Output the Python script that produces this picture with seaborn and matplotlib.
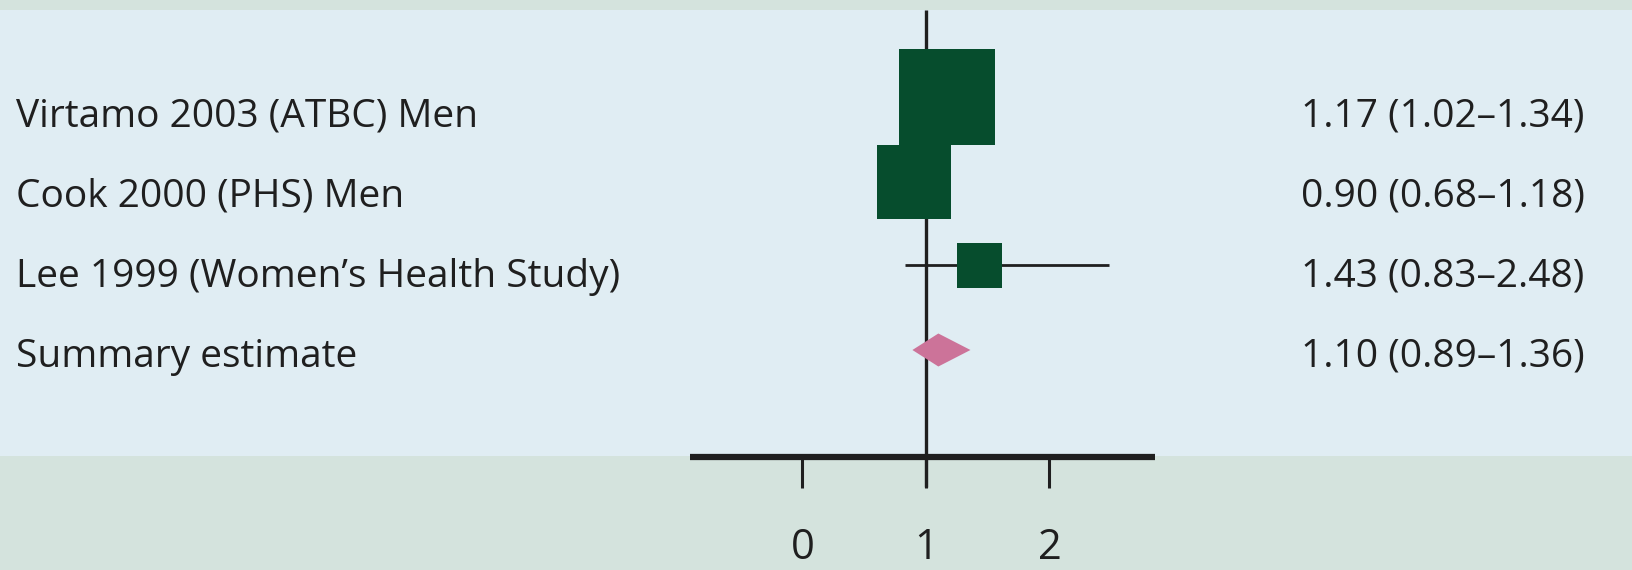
import matplotlib
matplotlib.use("Agg")
import matplotlib.pyplot as plt
import matplotlib.transforms as mtransforms
from matplotlib.patches import Polygon
import seaborn as sns
import pandas as pd

# ---- data -------------------------------------------------------------
studies = [
    "Virtamo 2003 (ATBC) Men",
    "Cook 2000 (PHS) Men",
    "Lee 1999 (Women\u2019s Health Study)",
]
estimates = [1.17, 0.90, 1.43]
ci_low = [1.02, 0.68, 0.83]
ci_high = [1.34, 1.18, 2.48]

summary_label = "Summary estimate"
summary_est = 1.10
summary_low = 0.89
summary_high = 1.36

tick_values = [0, 1, 2]
tick_labels = ["0", "1", "2"]

# ---- style / layout ---------------------------------------------------
W, H = 1633, 570
PX_PER_UNIT = 123.5
X_ONE_PX = 926
BG_OUTER = "#d4e3dd"
BG_PANEL = "#e0edf3"
BOX_GREEN = "#064d2d"
DIAMOND_PINK = "#cc7399"
INK = "#1f1f1f"

row_y = [97, 182, 265, 350]          # vertical centres of the marks (pixels from top)
text_base = [127, 207, 287, 367]     # baselines of the row labels
box_side_px = [96, 74, 45]           # square sizes (study weight)
diamond_half_h = 16.5
panel_top, panel_bottom = 10, 456
axis_y = 457
axis_lo, axis_hi = -0.911, 2.854
tick_len = 31
ref_top, ref_bottom = 10, 487
label_size = 28
tick_size = 30

sns.set_theme(style="white")
plt.rcParams["font.family"] = ["Open Sans", "DejaVu Sans"]

fig = plt.figure(figsize=(W / 100, H / 100), dpi=100)
fig.patch.set_facecolor(BG_OUTER)
ax = fig.add_axes([0, 0, 1, 1])
ax.set_facecolor(BG_OUTER)
ax.set_xlim(1 - X_ONE_PX / PX_PER_UNIT, 1 + (W - X_ONE_PX) / PX_PER_UNIT)
ax.set_ylim(H, 0)
ax.axis("off")

# light panel behind the rows
ax.axhspan(panel_top, panel_bottom, color=BG_PANEL, zorder=0, lw=0)

# line of no effect
ax.vlines(1, ref_top, ref_bottom, color=INK, lw=2.4, zorder=2)

# confidence intervals of the individual studies
ax.hlines(row_y[:3], ci_low, ci_high, color=INK, lw=2.0, zorder=3)

# study point estimates as weighted squares
df = pd.DataFrame({"study": studies, "est": estimates, "y": row_y[:3]})
sizes = {s: (side * 0.72) ** 2 for s, side in zip(studies, box_side_px)}
sns.scatterplot(
    data=df, x="est", y="y", size="study", sizes=sizes, marker="s",
    color=BOX_GREEN, linewidth=0, legend=False, ax=ax, zorder=4,
)

# pooled estimate as a diamond
ys = row_y[3]
ax.add_patch(Polygon(
    [(summary_low, ys), (summary_est, ys - diamond_half_h),
     (summary_high, ys), (summary_est, ys + diamond_half_h)],
    closed=True, facecolor=DIAMOND_PINK, edgecolor="none", zorder=4,
))

# x axis drawn by hand
ax.hlines(axis_y, axis_lo, axis_hi, color=INK, lw=4.5, zorder=3)
ax.vlines(tick_values, axis_y, axis_y + tick_len, color=INK, lw=2.2, zorder=3)
for v, lab in zip(tick_values, tick_labels):
    ax.text(v, 559, lab, ha="center", va="baseline", fontsize=tick_size, color=INK)

# row labels and effect sizes
left = mtransforms.blended_transform_factory(ax.transAxes, ax.transData)
labels = studies + [summary_label]
values_txt = [f"{e:.2f} ({lo:.2f}\u2013{hi:.2f})" for e, lo, hi in
              zip(estimates + [summary_est], ci_low + [summary_low], ci_high + [summary_high])]
for y, lab, val in zip(text_base, labels, values_txt):
    ax.text(16 / W, y, lab, transform=left, ha="left", va="baseline",
            fontsize=label_size, color=INK)
    ax.text(1301 / W, y, val, transform=left, ha="left", va="baseline",
            fontsize=label_size, color=INK)

fig.savefig("out.png", dpi=100, facecolor=BG_OUTER)
